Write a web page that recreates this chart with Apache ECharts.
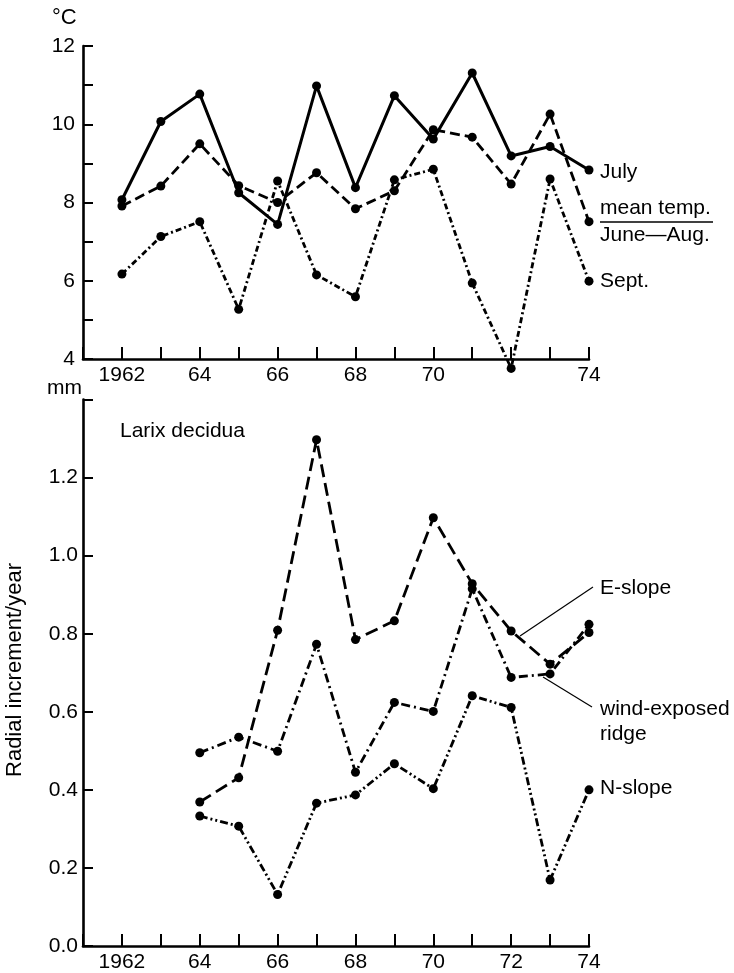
<!DOCTYPE html>
<html>
<head>
<meta charset="utf-8">
<script src="https://cdn.jsdelivr.net/npm/echarts@6/dist/echarts.min.js"></script>
<style>
html,body{margin:0;padding:0;background:#fff;}
#c{width:734px;height:973px;}
</style>
</head>
<body>
<div id="c"></div>
<script>
// ---- data ----
const years = [1962,1963,1964,1965,1966,1967,1968,1969,1970,1971,1972,1973,1974];
const july = [8.07,10.07,10.77,8.25,7.44,10.98,8.38,10.73,9.62,11.31,9.19,9.43,8.83];
const meanJuneAug = [7.91,8.42,9.50,8.43,8.00,8.76,7.84,8.30,9.86,9.67,8.47,10.26,7.51];
const sept = [6.17,7.13,7.51,5.27,8.55,6.15,5.59,8.58,8.85,5.94,3.76,8.60,5.99];

const growthYears = [1964,1965,1966,1967,1968,1969,1970,1971,1972,1973,1974];
const eSlope = [0.369,0.431,0.809,1.297,0.785,0.833,1.097,0.928,0.807,0.722,0.803];
const windRidge = [0.495,0.535,0.499,0.773,0.445,0.624,0.601,0.915,0.688,0.697,0.824];
const nSlope = [0.333,0.307,0.132,0.366,0.387,0.467,0.403,0.641,0.611,0.169,0.400];

const topYearLabels = {1962:'1962',1964:'64',1966:'66',1968:'68',1970:'70',1974:'74'};
const bottomYearLabels = {1962:'1962',1964:'64',1966:'66',1968:'68',1970:'70',1972:'72',1974:'74'};
const tempTickLabels = {4:'4',6:'6',8:'8',10:'10',12:'12'};
const growthTickLabels = ['0.0','0.2','0.4','0.6','0.8','1.0','1.2'];

// ---- chart ----
const FONT = "'Liberation Sans', Arial, Helvetica, sans-serif";
const chart = echarts.init(document.getElementById('c'), null, {renderer:'canvas'});

function pairs(xs, ys){ return xs.map((x,i)=>[x, ys[i]]); }

const axisLine = {show:true, onZero:false, lineStyle:{color:'#000', width:2.6}};
function xAxis(gridIndex, labels){
  return {
    type:'value', gridIndex, min:1961, max:1974, interval:1,
    axisLine, splitLine:{show:false},
    axisTick:{show:true, inside:true, length:12, lineStyle:{color:'#000', width:2}},
    axisLabel:{show:true, margin:6, color:'#000', fontFamily:FONT, fontSize:21,
      showMinLabel:true, showMaxLabel:true,
      formatter: v => labels[Math.round(v)] || ''}
  };
}

const lineSeries = (name, xi, data, type, width) => ({
  name, type:'line', xAxisIndex:xi, yAxisIndex:xi, data, clip:false,
  symbol:'circle', symbolSize:9, showSymbol:true,
  itemStyle:{color:'#000'},
  lineStyle:{color:'#000', width:width||2.8, type},
  animation:false, z:3
});

const txt = (text, x, y, extra) => Object.assign({
  type:'text', x, y,
  style:{text, fill:'#000', font:'21px ' + FONT, textVerticalAlign:'middle', textAlign:'left'}
}, extra||{});

chart.setOption({
  animation:false,
  backgroundColor:'#fff',
  grid:[
    {left:83, right:145, top:46, height:313, containLabel:false},
    {left:83, right:145, top:399.5, height:546.5, containLabel:false}
  ],
  xAxis:[ xAxis(0, topYearLabels), xAxis(1, bottomYearLabels) ],
  yAxis:[
    {type:'value', gridIndex:0, min:4, max:12, interval:1,
     axisLine, splitLine:{show:false},
     axisTick:{show:true, inside:true, length:10, lineStyle:{color:'#000', width:2}},
     axisLabel:{margin:8, color:'#000', fontFamily:FONT, fontSize:21,
       formatter: v => tempTickLabels[Math.round(v)] || ''}},
    {type:'value', gridIndex:1, min:0, max:1.4, interval:0.2,
     axisLine, splitLine:{show:false},
     axisTick:{show:true, inside:true, length:10, lineStyle:{color:'#000', width:2}},
     axisLabel:{margin:5, color:'#000', fontFamily:FONT, fontSize:21,
       formatter: v => growthTickLabels[Math.round(v*5)] || ''}}
  ],
  series:[
    lineSeries('July', 0, pairs(years, july), 'solid', 3),
    lineSeries('mean temp. June–Aug.', 0, pairs(years, meanJuneAug), [10,5], 2.8),
    lineSeries('Sept.', 0, pairs(years, sept), [6,3,2,3], 2.8),
    lineSeries('E-slope', 1, pairs(growthYears, eSlope), [13,6], 2.8),
    lineSeries('wind-exposed ridge', 1, pairs(growthYears, windRidge), [9,4,2,4], 2.8),
    lineSeries('N-slope', 1, pairs(growthYears, nSlope), [8,3,2,3,2,3], 2.8)
  ],
  graphic:[
    txt('°C', 52, 18, {style:{text:'°C', fill:'#000', font:'22px ' + FONT, textVerticalAlign:'middle', textAlign:'left'}}),
    txt('July', 600, 172),
    txt('mean temp.', 600, 208),
    {type:'line', shape:{x1:600, y1:222, x2:713, y2:222}, style:{stroke:'#000', lineWidth:1.5}},
    txt('June—Aug.', 600, 235),
    txt('Sept.', 600, 281),
    txt('mm', 82, 388, {style:{text:'mm', fill:'#000', font:'21px ' + FONT, textVerticalAlign:'middle', textAlign:'right'}}),
    txt('Larix decidua', 120, 431),
    txt('E-slope', 600, 588),
    {type:'line', shape:{x1:593, y1:587, x2:520, y2:636}, style:{stroke:'#000', lineWidth:1.2}},
    txt('wind-exposed', 600, 709),
    txt('ridge', 600, 734),
    {type:'line', shape:{x1:592, y1:707, x2:543, y2:677}, style:{stroke:'#000', lineWidth:1.2}},
    txt('N-slope', 600, 788),
    {type:'text', x:15, y:670, rotation:Math.PI/2,
     style:{text:'Radial increment/year', fill:'#000', font:'22px ' + FONT, textAlign:'center', textVerticalAlign:'middle'}}
  ]
});
</script>
</body>
</html>
